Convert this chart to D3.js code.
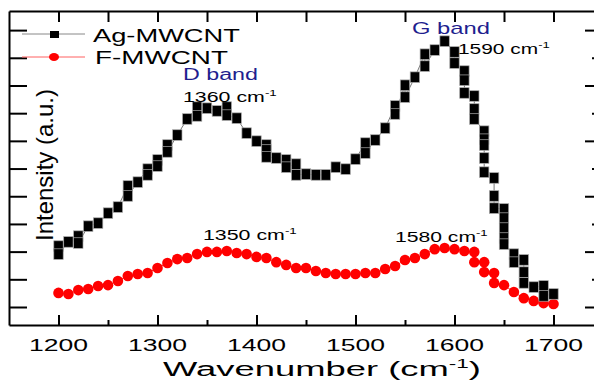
<!DOCTYPE html>
<html>
<head>
<meta charset="utf-8">
<script src="https://cdn.jsdelivr.net/npm/d3@7"></script>
<style>
  html, body { margin: 0; padding: 0; background: #fff; }
  #chart { width: 594px; height: 381px; }
  text { font-family: "Liberation Sans", Arial, sans-serif; }
</style>
</head>
<body>
<div id="chart"></div>
<script>
// Ag-MWCNT (black squares) - several columns hold more than one point
const agWave = [1200,1200,1210,1220,1220,1230,1240,1250,1260,1270,1270,1280,1290,1290,1300,1300,1310,1310,1320,1330,
  1340,1340,1350,1360,1370,1370,1380,1390,1400,1410,1410,1410,1420,1430,1430,1440,1440,1450,1460,1470,1480,1490,1500,
  1510,1510,1520,1530,1540,1540,1550,1550,1560,1570,1570,1580,1590,1600,1600,1610,1610,1610,1620,1620,1620,
  1630,1630,1630,1630,1630,1640,1640,1640,1650,1650,1650,1650,1650,1660,1660,1670,1670,1670,1680,1690,1690,1700];
const agIntensity = [3.20,2.91,3.35,3.56,3.31,3.92,4.03,4.39,4.61,5.37,5.01,5.51,5.98,5.77,6.31,6.09,6.85,6.60,7.21,7.79,
  8.22,7.90,8.18,8.08,8.22,7.93,7.82,7.28,6.99,6.85,6.67,6.42,6.38,6.31,6.05,6.16,5.77,5.80,5.77,5.77,6.05,5.98,6.34,
  6.92,6.56,7.03,7.46,8.26,7.97,9.01,8.58,9.30,10.13,9.70,10.28,10.60,10.21,9.81,9.52,9.19,8.73,8.62,8.15,7.79,
  7.35,7.06,6.85,6.38,5.87,5.66,5.01,4.57,4.54,4.21,3.85,3.49,3.27,2.91,2.62,2.70,2.26,1.87,1.72,1.76,1.40,1.47];

// F-MWCNT (red circles)
const fWave = [1200,1210,1220,1230,1240,1250,1260,1270,1280,1290,1300,1310,1320,1330,1340,1350,1360,1370,1380,1390,
  1400,1410,1420,1430,1440,1450,1460,1470,1480,1490,1500,1510,1520,1530,1540,1550,1560,1570,1580,1590,1600,1610,
  1620,1620,1630,1630,1640,1640,1650,1660,1670,1680,1690,1700];
const fIntensity = [1.51,1.47,1.61,1.65,1.76,1.79,1.94,2.12,2.19,2.23,2.41,2.59,2.73,2.77,2.91,2.99,2.99,3.02,2.95,2.91,
  2.81,2.77,2.62,2.52,2.41,2.41,2.30,2.23,2.19,2.19,2.19,2.23,2.23,2.37,2.48,2.70,2.77,2.91,3.09,3.13,3.09,3.02,
  2.99,2.62,2.62,2.26,2.23,1.87,1.79,1.54,1.32,1.22,1.14,1.11];

const xTickLabels = ['1200','1300','1400','1500','1600','1700'];
const seriesNames = ['Ag-MWCNT','F-MWCNT'];

(function() {
  const width = 594, height = 381;
  const svg = d3.select('#chart').append('svg')
    .attr('width', width)
    .attr('height', height);

  const x = d3.scaleLinear().domain([1150, 1750]).range([9, 603]);
  const y = d3.scaleLinear().domain([0.35, 11.69]).range([325, 11]);
  const xMajor = xTickLabels.map(Number);
  const xAll = d3.range(1200, 1701, 50);
  const yAll = d3.range(1, 12);

  // text squeezed/stretched horizontally to fit a width
  function fitText(parent, cx, cy, parts, size, w, fill, anchor) {
    const g = parent.append('g');
    const t = g.append('text')
      .attr('font-size', size)
      .attr('fill', fill)
      .attr('text-anchor', anchor || 'start');
    let raised = false;
    parts.forEach(p => {
      const ts = t.append('tspan').text(p);
      if (p === '-1') {
        ts.attr('font-size', size * 0.62).attr('dy', -size * 0.42);
        raised = true;
      } else if (raised) {
        ts.attr('dy', size * 0.42);
        raised = false;
      }
    });
    const bw = t.node().getBBox().width;
    g.attr('transform', `translate(${cx},${cy}) scale(${w / bw},1)`);
    return g;
  }

  // axes (ticks point inward)
  const axes = svg.append('g').attr('class', 'axes');
  axes.append('g').attr('transform', `translate(0,${y.range()[0]})`)
    .call(d3.axisBottom(x).tickValues(xMajor).tickSizeInner(-10).tickSizeOuter(0).tickFormat(''));
  axes.append('g').attr('transform', `translate(0,${y.range()[0]})`)
    .call(d3.axisBottom(x).tickValues(xAll.filter(v => !xMajor.includes(v))).tickSizeInner(-5).tickSizeOuter(0).tickFormat(''))
    .select('.domain').remove();
  axes.append('g').attr('transform', `translate(0,${y.range()[1]})`)
    .call(d3.axisTop(x).tickValues(xAll).tickSizeInner(-11).tickSizeOuter(0).tickFormat(''));
  axes.append('g').attr('transform', `translate(${x.range()[0]},0)`)
    .call(d3.axisLeft(y).tickValues(yAll).tickSizeInner(-18).tickSizeOuter(0).tickFormat(''));
  axes.append('g').attr('transform', `translate(${x.range()[1]},0)`)
    .call(d3.axisRight(y).tickValues(yAll.filter(v => v % 2 === 1)).tickSizeInner(-18).tickSizeOuter(0).tickFormat(''));
  axes.append('g').attr('transform', `translate(${x.range()[1]},0)`)
    .call(d3.axisRight(y).tickValues(yAll.filter(v => v % 2 === 0)).tickSizeInner(-11).tickSizeOuter(0).tickFormat(''))
    .select('.domain').remove();
  axes.selectAll('path.domain').attr('stroke', '#000').attr('stroke-width', 2);
  axes.selectAll('.tick line').attr('stroke', '#000').attr('stroke-width', 2);

  // tick labels
  xMajor.forEach((v, i) => {
    fitText(svg, x(v), 351, [xTickLabels[i]], 17, 59, '#000', 'middle');
  });

  // axis titles
  fitText(svg, 322, 376, ['Wavenumber (cm', '-1', ')'], 20, 318, '#000', 'middle');
  svg.append('text')
    .attr('transform', 'translate(53,165) rotate(-90)')
    .attr('text-anchor', 'middle')
    .attr('font-size', 24)
    .attr('fill', '#000')
    .text('Intensity (a.u.)');

  // series
  const plot = svg.append('g');
  const ag = agWave.map((w, i) => ({ w, v: agIntensity[i] }));
  const fm = fWave.map((w, i) => ({ w, v: fIntensity[i] }));
  const line = d3.line().x(d => x(d.w)).y(d => y(d.v));

  plot.append('path').datum(fm)
    .attr('d', line).attr('fill', 'none').attr('stroke', '#ff3030').attr('stroke-width', 1);
  plot.append('path').datum(ag)
    .attr('d', line).attr('fill', 'none').attr('stroke', '#777').attr('stroke-width', 1);

  plot.selectAll('circle.fm').data(fm).enter().append('circle')
    .attr('class', 'fm')
    .attr('cx', d => x(d.w)).attr('cy', d => y(d.v))
    .attr('r', 5.3)
    .attr('fill', '#ff0000');

  plot.selectAll('rect.ag').data(ag).enter().append('rect')
    .attr('class', 'ag')
    .attr('x', d => x(d.w) - 4.7).attr('y', d => y(d.v) - 5.3)
    .attr('width', 9.4).attr('height', 10.6)
    .attr('fill', '#000')
    .attr('stroke', '#aaa')
    .attr('stroke-width', 0.7);

  // legend
  const lg = svg.append('g');
  lg.append('line').attr('x1', 22).attr('x2', 85).attr('y1', 34).attr('y2', 34)
    .attr('stroke', '#888').attr('stroke-width', 1);
  lg.append('rect').attr('x', 50).attr('y', 31).attr('width', 9).attr('height', 7).attr('fill', '#000');
  lg.append('line').attr('x1', 22).attr('x2', 85).attr('y1', 57).attr('y2', 57)
    .attr('stroke', '#ff6060').attr('stroke-width', 1);
  lg.append('ellipse').attr('cx', 54).attr('cy', 57).attr('rx', 5).attr('ry', 4).attr('fill', '#ff0000');
  fitText(lg, 93, 42, [seriesNames[0]], 18, 147, '#000');
  fitText(lg, 95, 64, [seriesNames[1]], 18, 133, '#000');

  // band annotations
  const navy = '#1f1f8f';
  fitText(svg, 183, 80, ['D band'], 16, 75, navy);
  fitText(svg, 412, 34, ['G band'], 16, 78, navy);
  fitText(svg, 183, 102, ['1360 cm', '-1'], 14, 94, '#000');
  fitText(svg, 458, 54, ['1590 cm', '-1'], 14, 92, '#000');
  fitText(svg, 203, 240, ['1350 cm', '-1'], 14, 94, '#000');
  fitText(svg, 395, 242, ['1580 cm', '-1'], 14, 93, '#000');
})();
</script>
</body>
</html>
